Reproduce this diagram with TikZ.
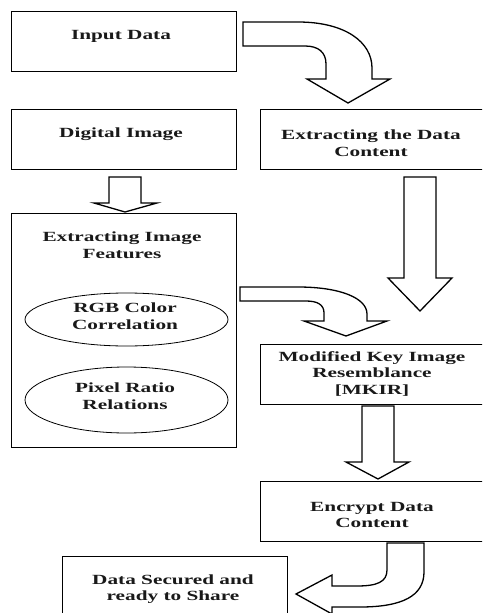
\documentclass[tikz,border=0pt]{standalone}
\usepackage{fontspec}
\newfontfamily\boxfont{Liberation Serif}[FakeStretch=1.52]
\usetikzlibrary{shapes.geometric}
\begin{document}
\begin{tikzpicture}[x=1pt,y=-1pt,
  box/.style={draw, line width=0.9pt, rectangle, inner sep=0pt},
  oval/.style={draw, line width=0.8pt, ellipse, inner sep=0pt},
  txt/.style={font=\boxfont\bfseries\fontsize{14}{16.5}\selectfont, align=center, inner sep=0pt, text=black!90},
  blockarrow/.style={draw, line width=1.3pt, fill=white, line join=miter}]
\useasboundingbox (0,0) rectangle (482,613);
\clip (0,0) rectangle (482,613);

% process boxes
\node[box, minimum width=225, minimum height=60] (input) at (123.5,41) {};
\node[box, minimum width=225, minimum height=60] (digital) at (123.5,139) {};
\node[box, minimum width=230, minimum height=60] (extract) at (375,139) {};
\node[box, minimum width=225, minimum height=234] (features) at (123.5,330) {};
\node[box, minimum width=230, minimum height=60] (mkir) at (375,374) {};
\node[box, minimum width=230, minimum height=60] (encrypt) at (375,511) {};
\node[box, minimum width=225, minimum height=70] (secured) at (174.5,591) {};

% feature ellipses
\node[oval, minimum width=203, minimum height=53] (rgb) at (126.5,319.5) {};
\node[oval, minimum width=203, minimum height=66] (pixel) at (126.5,400) {};

% labels
\node[txt] (tinput) at (121,36) {Input Data};
\node[txt] (tdigital) at (121,134) {Digital Image};
\node[txt] (textract) at (371,143) {Extracting the Data\\Content};
\node[txt] (tfeatures) at (122,245) {Extracting Image\\Features};
\node[txt] (trgb) at (125,316) {RGB Color\\Correlation};
\node[txt] (tpixel) at (125,396) {Pixel Ratio\\Relations};
\node[txt] (tmkir) at (372,374) {Modified Key Image\\Resemblance\\{[MKIR]}};
\node[txt] (tencrypt) at (372,515) {Encrypt Data\\Content};
\node[txt] (tsecured) at (173,589) {Data Secured and\\ready to Share};

% block arrows
% input -> extracting the data content
\path[blockarrow] (243,22) -- (298,22) .. controls (345,22) and (372,42) .. (372,68)
  -- (372,79) -- (390,79) -- (348,103) -- (307,79) -- (326,79) -- (326,64)
  .. controls (326,52) and (318,46) .. (305,46) -- (243,46) -- cycle;
% digital image -> features
\path[blockarrow] (109,177) -- (141,177) -- (141,203) -- (157,203) -- (125,212)
  -- (94,203) -- (109,203) -- cycle;
% extracting the data content -> mkir
\path[blockarrow] (404,177) -- (436,177) -- (436,278) -- (452,278) -- (420,311)
  -- (388,278) -- (404,278) -- cycle;
% features -> mkir
\path[blockarrow] (240,287) -- (298,287) .. controls (340,287) and (367,298) .. (367,314)
  -- (367,321) -- (387,321) -- (346,336) -- (304,321) -- (324,321) -- (324,313)
  .. controls (324,305) and (318,301) .. (306,301) -- (240,301) -- cycle;
% mkir -> encrypt
\path[blockarrow] (362,406) -- (394,406) -- (394,462) -- (409,462) -- (378,479)
  -- (346,462) -- (362,462) -- cycle;
% encrypt -> secured
\path[blockarrow] (387,543) -- (387,570) .. controls (387,582) and (377,586) .. (357,586)
  -- (332,586) -- (332,575) -- (296,594) -- (332,614) -- (332,607) -- (360,607)
  .. controls (402,607) and (424,596) .. (424,572) -- (424,543) -- cycle;
\end{tikzpicture}
\end{document}
